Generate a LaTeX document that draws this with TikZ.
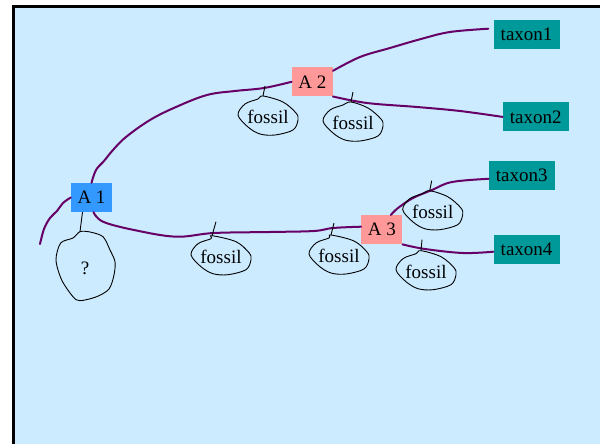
\documentclass[tikz,border=0pt]{standalone}
\usepackage{fontspec}
\setmainfont{Liberation Serif}
\usetikzlibrary{calc}
\definecolor{bgblue}{HTML}{CCEBFF}
\definecolor{tealc}{HTML}{009999}
\definecolor{salmon}{HTML}{FF9999}
\definecolor{ablue}{HTML}{3399FF}
\definecolor{branchc}{HTML}{660066}
\tikzset{
  txt/.style={font=\fontsize{19}{22}\selectfont, inner sep=0pt},
  taxonbox/.style={txt, fill=tealc, minimum width=66pt, minimum height=29pt},
  ancbox/.style={txt, minimum width=41pt, minimum height=29pt},
  branch/.style={draw=branchc, line width=2pt, line cap=round},
  blob/.style={draw=black, line width=0.9pt},
}
\newcommand\fosblob[4]{%
  \draw[blob] ($(#1)+(#2,-21)$) -- ($(#1)+(#3,#4)$);
  \draw[blob,shift={(#1)}] plot[smooth cycle,tension=0.55] coordinates {(#2,-21) (15,-15) (28,-4) (30,3) (25,13) (7,18) (-8,17) (-20,10) (-30,-2) (-23,-13) (-10,-18)};
}
\begin{document}
\begin{tikzpicture}[x=1pt,y=-1pt]
\useasboundingbox (0,0) rectangle (600,444);
\clip (0,0) rectangle (600,444);
\fill[white] (0,0) rectangle (600,444);
\draw[line width=3pt, fill=bgblue] (13.5,6.5) rectangle (640,480);

% nodes
\node[taxonbox] (t1) at (526.6,34.7) {taxon1};
\node[taxonbox] (t2) at (535.8,116.9) {taxon2};
\node[taxonbox] (t3) at (521.8,175.8) {taxon3};
\node[taxonbox] (t4) at (526.6,249.7) {taxon4};
\node[ancbox, fill=ablue] (a1) at (91.5,197.5) {A 1};
\node[ancbox, fill=salmon] (a2) at (312.3,81.8) {A 2};
\node[ancbox, fill=salmon] (a3) at (381.8,229.7) {A 3};
\coordinate (root) at (40,244);

% branches
\draw[branch] plot[smooth, tension=0.6] coordinates {(root) (44,229) (50,218) (57,211) (63,203) (a1.west)};
\draw[branch] plot[smooth, tension=0.6] coordinates {(a1.north) (96,170) (104,161) (113,150) (126,137) (150,120) (176,107) (207,95) (235,91) (264,88) (a2.west)};
\draw[branch] plot[smooth, tension=0.6] coordinates {($(a2.east)+(0,-11)$) (360,57) (390,48) (421,39) (450,32) ($(t1.west)+(-5,-6)$)};
\draw[branch] plot[smooth, tension=0.6] coordinates {(a2.south east) (367,103) (417,107) (460,111) (t2.west)};
\draw[branch] plot[smooth, tension=0.6] coordinates {($(a1.south)+(2,0)$) (103,221.7) (134,230) (176,236.7) (214,233) (270,232) (314,231) (333,228) ($(a3.west)+(0,-3)$)};
\draw[branch] plot[smooth, tension=0.6] coordinates {($(a3.north)+(9,0)$) (398,208) (413,198) (432,190) (452,182) ($(t3.west)+(0,3)$)};
\draw[branch] plot[smooth, tension=0.6] coordinates {(a3.south east) (425,249) (463,253) ($(t4.west)+(0,2)$)};

% fossils
\node[txt] (f1) at (268,117) {fossil};
\node[txt] (f2) at (353,123) {fossil};
\node[txt] (f3) at (221,256.7) {fossil};
\node[txt] (f4) at (339,256) {fossil};
\node[txt] (f5) at (432.7,211.7) {fossil};
\node[txt] (f6) at (426,271.7) {fossil};
\fosblob{f1}{-5}{-3}{-31}
\fosblob{f2}{-2}{0}{-31}
\fosblob{f3}{-9}{-5}{-35}
\fosblob{f4}{-8}{-5}{-33}
\fosblob{f5}{-3}{-1}{-31}
\fosblob{f6}{-5}{-4}{-32}

% unknown blob under A1
\node[txt] (q) at (85,268) {?};
\draw[blob] ($(a1.south)+(-9,0)$) -- (80,231.7);
\draw[blob] plot[smooth cycle, tension=0.5] coordinates {(80,231.7) (90,232) (103,236.7) (110,250) (115,261.7) (114,275) (109,289) (96.7,296.7) (80,300.7) (73,296.7) (61.7,280) (56,260) (60.7,243) (73,238)};
\end{tikzpicture}
\end{document}
